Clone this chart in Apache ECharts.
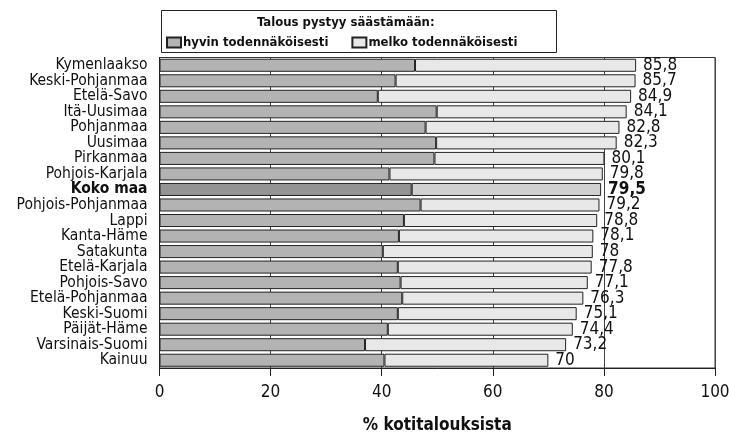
<!DOCTYPE html>
<html>
<head>
<meta charset="utf-8">
<script src="https://cdn.jsdelivr.net/npm/echarts@6/dist/echarts.min.js"></script>
<style>
html,body{margin:0;padding:0;background:#fff;}
#chart{width:729px;height:435px;}
</style>
</head>
<body>
<div id="chart"></div>
<script>
const categories = ["Kymenlaakso","Keski-Pohjanmaa","Etelä-Savo","Itä-Uusimaa","Pohjanmaa","Uusimaa","Pirkanmaa","Pohjois-Karjala","Koko maa","Pohjois-Pohjanmaa","Lappi","Kanta-Häme","Satakunta","Etelä-Karjala","Pohjois-Savo","Etelä-Pohjanmaa","Keski-Suomi","Päijät-Häme","Varsinais-Suomi","Kainuu"];
const hyvin = [46.0,42.5,39.3,49.9,47.9,49.8,49.5,41.4,45.4,47.0,44.0,43.1,40.2,42.9,43.4,43.7,42.9,41.1,37.0,40.5];
const melko = [39.8,43.2,45.6,34.2,34.9,32.5,30.6,38.4,34.1,32.2,34.8,35.0,37.8,34.9,33.7,32.6,32.2,33.3,36.2,29.5];
const totals = [85.8,85.7,84.9,84.1,82.8,82.3,80.1,79.8,79.5,79.2,78.8,78.1,78,77.8,77.1,76.3,75.1,74.4,73.2,70];
const xTicks = [0,20,40,60,80,100];
const legendTitle = "Talous pystyy säästämään:";
const seriesNames = ["hyvin todennäköisesti","melko todennäköisesti"];
const axisName = "% kotitalouksista";
const highlight = "Koko maa";

const FONT = "'Liberation Sans Narrow','DejaVu Sans Condensed','Roboto Condensed',sans-serif";
const hiIdx = categories.indexOf(highlight);

const darkData = hyvin.map((v,i)=> i===hiIdx ? {value:v,itemStyle:{color:'#949494'}} : v);
const lightData = melko.map((v,i)=> i===hiIdx ? {value:v,itemStyle:{color:'#d0d0d0'}} : v);

const chart = echarts.init(document.getElementById('chart'), null, {renderer:'canvas'});
chart.setOption({
  animation:false,
  backgroundColor:'#fff',
  textStyle:{fontFamily:FONT},
  graphic:[{
    type:'rect', left:161, top:10, z:0,
    shape:{width:395, height:42},
    style:{fill:'#fff', stroke:'#222', lineWidth:1}
  },{
    type:'text', left:257, top:16, z:10,
    style:{text:legendTitle, font:"bold 13px "+FONT, fill:'#111'}
  }],
  legend:{
    left:161, top:31, itemWidth:14, itemHeight:10, itemGap:23,
    icon:'rect',
    data:seriesNames,
    textStyle:{fontFamily:FONT, fontWeight:'bold', fontSize:13, color:'#111', padding:[0,0,0,-3]}
  },
  grid:{left:159.5, right:14, top:57.5, bottom:67, show:true, borderColor:'#333', borderWidth:1,
        containLabel:false, outerBoundsMode:'none'},
  xAxis:{
    type:'value', min:0, max:100, interval:20,
    axisLine:{show:true, lineStyle:{color:'#222', width:1}},
    axisTick:{show:true, length:8, lineStyle:{color:'#222'}},
    axisLabel:{fontFamily:FONT, fontSize:17, color:'#111', margin:16,
      formatter:v=> xTicks.includes(v) ? String(v) : ''},
    splitLine:{show:true, lineStyle:{color:'#444', width:1}},
    name:axisName, nameLocation:'middle', nameGap:49,
    nameTextStyle:{fontFamily:FONT, fontWeight:'bold', fontSize:17, color:'#111'}
  },
  yAxis:{
    type:'category', data:categories, inverse:true,
    axisLine:{show:true, lineStyle:{color:'#222'}},
    axisTick:{show:false},
    axisLabel:{interval:0, fontFamily:FONT, fontSize:15.5, color:'#111', margin:12,
      formatter:(v)=> v===highlight ? '{b|'+v+'}' : v,
      rich:{b:{fontFamily:FONT, fontSize:15.5, fontWeight:'bold', color:'#111'}}}
  },
  series:[{
    name:seriesNames[0], type:'bar', stack:'s', barCategoryGap:'16%',
    data:darkData,
    itemStyle:{color:'#b3b3b3', borderColor:'#222', borderWidth:1}
  },{
    name:seriesNames[1], type:'bar', stack:'s', barCategoryGap:'16%',
    data:lightData,
    itemStyle:{color:'#e8e8e8', borderColor:'#222', borderWidth:1},
    label:{show:true, position:'right', distance:7, fontFamily:FONT, fontSize:17, color:'#111',
      formatter:p=>{
        const t = String(totals[p.dataIndex]).replace('.',',');
        return p.dataIndex===hiIdx ? '{b|'+t+'}' : t;
      },
      rich:{b:{fontFamily:FONT, fontSize:17, fontWeight:'bold', color:'#111'}}}
  }]
});
</script>
</body>
</html>
